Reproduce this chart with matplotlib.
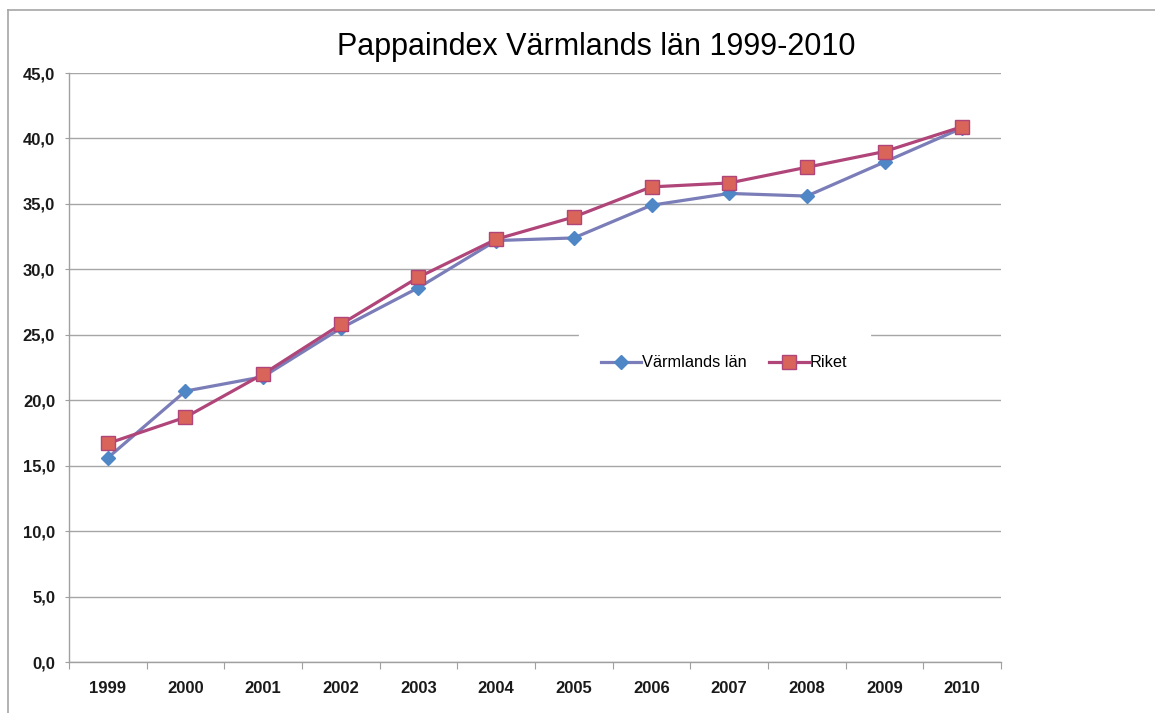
import numpy as np
import matplotlib
matplotlib.use('Agg')
import matplotlib.pyplot as plt
from matplotlib.lines import Line2D
from matplotlib.ticker import FuncFormatter, FixedLocator, NullFormatter

# Data
years = ['1999', '2000', '2001', '2002', '2003', '2004',
         '2005', '2006', '2007', '2008', '2009', '2010']
varmland = [15.6, 20.7, 21.8, 25.5, 28.6, 32.2, 32.4, 34.9, 35.8, 35.6, 38.2, 40.8]
riket = [16.7, 18.7, 22.0, 25.8, 29.4, 32.3, 34.0, 36.3, 36.6, 37.8, 39.0, 40.9]
yticks = np.arange(0, 50, 5)

plt.rcParams['font.family'] = ['Liberation Sans', 'DejaVu Sans']

fig = plt.figure(figsize=(11.55, 7.13), dpi=100)
ax = fig.add_axes([0.0597, 0.0715, 0.807, 0.8261])

x = np.arange(len(years))
ax.plot(x, varmland, color='#7A7DB8', lw=2.3, marker='D', markersize=7.5,
        markerfacecolor='#4F86C6', markeredgecolor='#4F86C6',
        label='Värmlands län', zorder=3)
ax.plot(x, riket, color='#B0457A', lw=2.3, marker='s', markersize=10,
        markerfacecolor='#D9655A', markeredgecolor='#B0457A', markeredgewidth=1,
        label='Riket', zorder=4)

ax.set_xlim(-0.5, len(years) - 0.5)
ax.set_ylim(0, 45)

# y axis
ax.set_yticks(yticks)
ax.yaxis.set_major_formatter(FuncFormatter(lambda v, p: f'{v:.1f}'.replace('.', ',')))
ax.grid(axis='y', color='#A6A6A6', lw=1.0, zorder=0)

# x axis: tick marks between categories, labels at centres
ax.xaxis.set_major_locator(FixedLocator(np.arange(-0.5, len(years), 1.0)))
ax.xaxis.set_major_formatter(NullFormatter())
ax.xaxis.set_minor_locator(FixedLocator(x))
ax.set_xticklabels(years, minor=True)
ax.tick_params(axis='x', which='major', length=5, color='#A0A0A0', direction='out')
ax.tick_params(axis='x', which='minor', length=0, pad=14)
ax.tick_params(axis='y', length=3, color='#A0A0A0', direction='out', pad=7)

for lbl in ax.get_xticklabels(minor=True) + ax.get_yticklabels():
    lbl.set_fontsize(12)
    lbl.set_fontweight('bold')
    lbl.set_color('#1a1a1a')

for s in ['top', 'right']:
    ax.spines[s].set_visible(False)
for s in ['left', 'bottom']:
    ax.spines[s].set_color('#A0A0A0')
    ax.spines[s].set_linewidth(1.0)

fig.text(0.516, 0.934, 'Pappaindex Värmlands län 1999-2010',
         ha='center', va='center', fontsize=22)

leg = ax.legend(loc='center', bbox_to_anchor=(0.703, 0.508), ncol=2,
                frameon=True, fontsize=11.8, handlelength=2.4,
                handletextpad=0.05, columnspacing=1.4, borderpad=1.4)
leg.get_frame().set_facecolor('white')
leg.get_frame().set_edgecolor('white')
leg.get_frame().set_alpha(1.0)

# outer chart border (left and top edges)
fig.add_artist(Line2D([0.0065, 0.0065], [0.0, 0.986], transform=fig.transFigure,
                      color='#A6A6A6', lw=1.2))
fig.add_artist(Line2D([0.0065, 1.0], [0.986, 0.986], transform=fig.transFigure,
                      color='#A6A6A6', lw=1.2))

fig.savefig('out.png', dpi=100)
